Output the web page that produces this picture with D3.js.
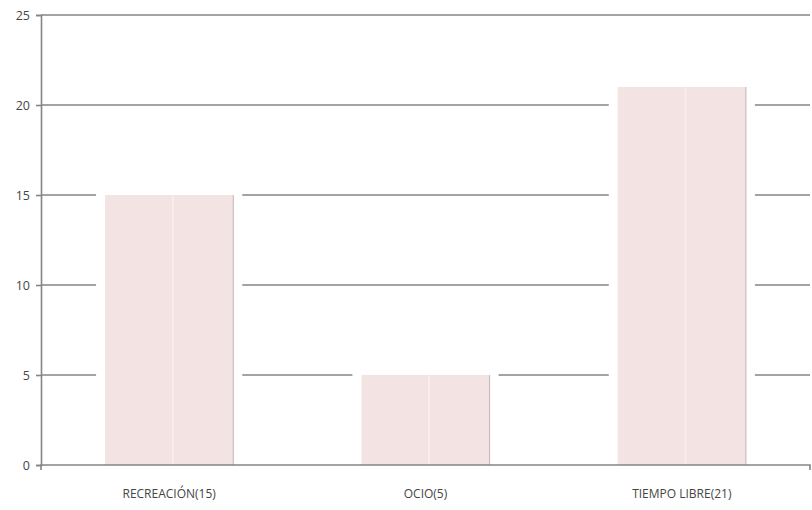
<!DOCTYPE html>
<html>
<head>
<meta charset="utf-8">
<script src="https://cdn.jsdelivr.net/npm/d3@7/dist/d3.min.js"></script>
<style>
  html, body { margin: 0; padding: 0; background: #fff; }
  svg { display: block; }
  text { font-family: "Open Sans", "Liberation Sans", sans-serif; fill: #454545; }
</style>
</head>
<body>
<svg id="chart" width="812" height="510"></svg>
<script>
// Category labels and counts
const categories = ["RECREACIÓN(15)", "OCIO(5)", "TIEMPO LIBRE(21)"];
const values = [15, 5, 21];
const yTicks = [0, 5, 10, 15, 20, 25];

const width = 812, height = 510;
const margin = { top: 15, right: 2, bottom: 45, left: 41 };

const svg = d3.select("#chart");

const x = d3.scaleBand()
  .domain(categories)
  .range([margin.left, width - margin.right])
  .paddingInner(0.5)
  .paddingOuter(0.25);

const y = d3.scaleLinear()
  .domain([0, 25])
  .range([height - margin.bottom, margin.top]);

const lineColor = "#858585";

// Horizontal gridlines
svg.append("g")
  .selectAll("line")
  .data(yTicks.filter(d => d > 0))
  .join("line")
  .attr("x1", margin.left)
  .attr("x2", width - margin.right)
  .attr("y1", d => y(d))
  .attr("y2", d => y(d))
  .attr("stroke", lineColor)
  .attr("stroke-width", 1.6);

// White halo behind each bar breaks the gridlines on either side
const gap = 9;
svg.append("g")
  .selectAll("rect")
  .data(values)
  .join("rect")
  .attr("x", (d, i) => x(categories[i]) - gap)
  .attr("width", x.bandwidth() + gap * 2)
  .attr("y", d => y(d) - 1)
  .attr("height", d => y(0) - y(d) + 1)
  .attr("fill", "#fff");

// Bars
const bars = svg.append("g")
  .selectAll("g")
  .data(values)
  .join("g");

bars.append("rect")
  .attr("x", (d, i) => x(categories[i]))
  .attr("width", x.bandwidth())
  .attr("y", d => y(d))
  .attr("height", d => y(0) - y(d))
  .attr("fill", "#f4e3e3");

// Soft lighter streak inside each bar
bars.append("rect")
  .attr("x", (d, i) => x(categories[i]) + x.bandwidth() * 0.52)
  .attr("width", 2)
  .attr("y", d => y(d))
  .attr("height", d => y(0) - y(d))
  .attr("fill", "#f8eded");

// Grey right edge
bars.append("line")
  .attr("x1", (d, i) => x(categories[i]) + x.bandwidth())
  .attr("x2", (d, i) => x(categories[i]) + x.bandwidth())
  .attr("y1", d => y(d))
  .attr("y2", y(0))
  .attr("stroke", "#c2b5b5")
  .attr("stroke-width", 1);

// Y axis
const yAxis = svg.append("g")
  .attr("transform", `translate(${margin.left},0)`)
  .call(d3.axisLeft(y).tickValues(yTicks).tickSize(5).tickPadding(6));
yAxis.select(".domain").attr("stroke", lineColor).attr("stroke-width", 1.6);
yAxis.selectAll(".tick line").attr("stroke", lineColor).attr("stroke-width", 1.6);
yAxis.selectAll(".tick text")
  .attr("font-size", 12.5)
  .attr("fill", "#454545");

// X axis
const xAxis = svg.append("g")
  .attr("transform", `translate(0,${y(0)})`)
  .call(d3.axisBottom(x).tickSize(0).tickPadding(24));
xAxis.select(".domain").attr("stroke", lineColor).attr("stroke-width", 1.6)
  .attr("d", `M${margin.left},5V0H${width - margin.right}V5`);
xAxis.selectAll(".tick text")
  .attr("font-size", 12)
  .attr("fill", "#454545");
</script>
</body>
</html>
